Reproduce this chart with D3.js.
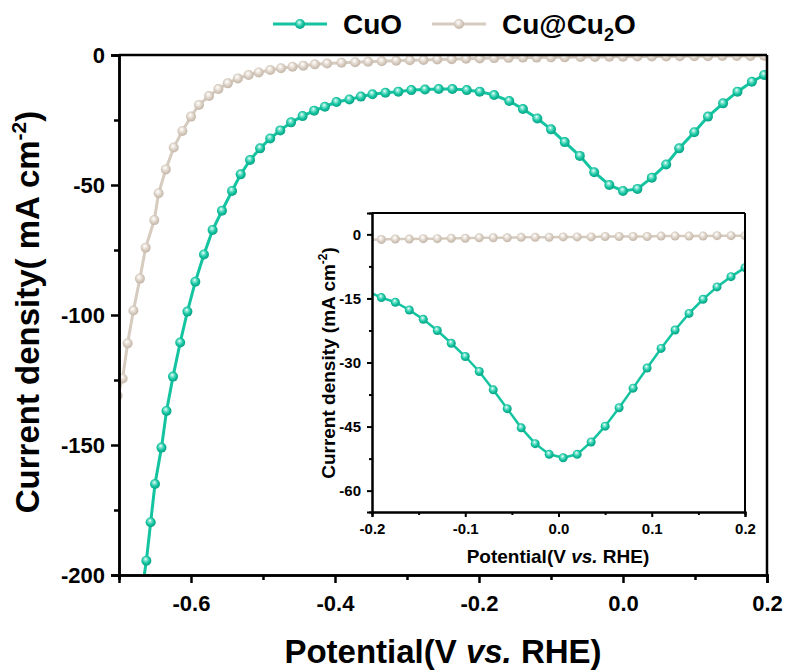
<!DOCTYPE html>
<html>
<head>
<meta charset="utf-8">
<script src="https://cdn.jsdelivr.net/npm/d3@7"></script>
<style>
  body { margin: 0; background: #fff; }
  text { font-family: "Liberation Sans", Arial, sans-serif; font-weight: bold; fill: #000; }
  .axis path, .axis line { stroke: #000; }
</style>
</head>
<body>
<div id="chart"></div>
<script>
// main panel: CuO
var cuoX = [-0.668, -0.662, -0.656, -0.650, -0.641, -0.634, -0.625, -0.615, -0.605, -0.594,
            -0.582, -0.570, -0.557, -0.543, -0.531, -0.518, -0.504, -0.490, -0.476, -0.461,
            -0.445, -0.429, -0.414, -0.398, -0.380, -0.364, -0.348, -0.330, -0.312, -0.294,
            -0.275, -0.256, -0.237, -0.217, -0.199, -0.179, -0.158, -0.139, -0.119, -0.100,
            -0.081, -0.060, -0.040, -0.019, 0.000, 0.020, 0.040, 0.060, 0.078, 0.099,
            0.118, 0.139, 0.159, 0.179, 0.196, 0.210];
var cuoY = [-206, -194.5, -179.7, -165.0, -151.0, -136.9, -123.7, -110.6, -98.7, -87.2,
            -76.7, -67.3, -59.9, -52.3, -45.9, -40.4, -35.9, -32.1, -29.0, -25.9,
            -23.5, -21.4, -19.9, -18.1, -17.1, -16.0, -15.1, -14.5, -14.1, -13.5,
            -13.3, -13.1, -13.1, -13.5, -14.1, -15.4, -17.7, -20.8, -24.4, -28.6,
            -33.5, -38.8, -45.1, -50.0, -52.3, -51.5, -47.2, -42.1, -35.9, -29.7,
            -23.7, -18.6, -14.1, -10.3, -7.7, -5.8];

// main panel: Cu@Cu2O
var cu2oX = [-0.702, -0.695, -0.688, -0.680, -0.671, -0.663, -0.651, -0.645, -0.635, -0.624,
             -0.612, -0.600, -0.589, -0.575, -0.562, -0.549, -0.535, -0.520, -0.506, -0.490,
             -0.475, -0.459, -0.444, -0.428, -0.411, -0.391, -0.372, -0.354, -0.335, -0.315,
             -0.296, -0.277, -0.258, -0.238, -0.218, -0.199, -0.179, -0.159, -0.139, -0.120,
             -0.100, -0.081, -0.059, -0.039, -0.019, 0.000, 0.020, 0.040, 0.060, 0.079,
             0.099, 0.118, 0.138, 0.158, 0.177, 0.196];
var cu2oY = [-131, -124.4, -110.9, -98.3, -86.0, -74.1, -63.5, -53.2, -44.0, -35.6,
             -29.2, -23.7, -19.2, -15.8, -13.1, -10.9, -9.0, -7.7, -6.7, -5.8,
             -5.1, -4.5, -4.1, -3.6, -3.3, -3.0, -2.8, -2.6, -2.4, -2.2,
             -2.0, -1.9, -1.7, -1.6, -1.4, -1.3, -1.2, -1.1, -1.0, -1.0,
             -0.9, -0.9, -0.8, -0.8, -0.7, -0.7, -0.6, -0.6, -0.6, -0.5,
             -0.5, -0.5, -0.4, -0.4, -0.4, -0.3];

// inset panel
var insetX = [-0.205, -0.190, -0.175, -0.160, -0.145, -0.130, -0.115, -0.100, -0.085, -0.070,
              -0.055, -0.040, -0.025, -0.010, 0.005, 0.020, 0.035, 0.050, 0.065, 0.080,
              0.095, 0.110, 0.125, 0.140, 0.155, 0.170, 0.185, 0.200];
var insetCuoY = [-13.3, -14.8, -15.9, -17.7, -19.9, -22.5, -25.5, -28.6, -32.1, -36.4,
                 -40.8, -45.3, -49.0, -51.5, -52.3, -51.5, -48.6, -44.9, -40.6, -36.0,
                 -31.3, -26.7, -22.4, -18.5, -15.2, -12.3, -9.9, -7.8];
var insetCu2oY = [-1.3, -1.2, -1.1, -1.1, -1.0, -1.0, -0.9, -0.9, -0.8, -0.8,
                  -0.8, -0.7, -0.7, -0.7, -0.6, -0.6, -0.6, -0.5, -0.5, -0.5,
                  -0.5, -0.4, -0.4, -0.4, -0.4, -0.3, -0.3, -0.3];

var mainXTicks = [-0.6, -0.4, -0.2, 0.0, 0.2];
var mainYTicks = [0, -50, -100, -150, -200];
var insetXTicks = [-0.2, -0.1, 0.0, 0.1, 0.2];
var insetYTicks = [0, -15, -30, -45, -60];

var teal = "#14c4a0", beige = "#d6cbbf";

// plain hyphen minus, as in the original figure
function fmt(spec) {
  var f = d3.format(spec);
  return function(d) { return f(d).replace("\u2212", "-"); };
}

var svg = d3.select("#chart").append("svg")
    .attr("width", 787)
    .attr("height", 670);

// sphere-like markers
var defs = svg.append("defs");
function ball(id, light, base, dark) {
  var g = defs.append("radialGradient").attr("id", id)
    .attr("cx", "45%").attr("cy", "45%").attr("r", "60%")
    .attr("fx", "42%").attr("fy", "32%");
  g.append("stop").attr("offset", "0%").attr("stop-color", "#ffffff");
  g.append("stop").attr("offset", "22%").attr("stop-color", light);
  g.append("stop").attr("offset", "60%").attr("stop-color", base);
  g.append("stop").attr("offset", "100%").attr("stop-color", dark);
}
ball("ballTeal", "#8fe9d7", "#14c4a0", "#079a7f");
ball("ballBeige", "#f4efea", "#d8cdc1", "#bfb1a3");

function zip(xs, ys) {
  return xs.map(function(x, i) { return [x, ys[i]]; });
}

// ---- main panel ----
var m = {left: 119, right: 767, top: 55, bottom: 575};
var x = d3.scaleLinear().domain([-0.7, 0.2]).range([m.left, m.right]);
var y = d3.scaleLinear().domain([-200, 0]).range([m.bottom, m.top]);

defs.append("clipPath").attr("id", "clipMain").append("rect")
    .attr("x", m.left).attr("y", m.top)
    .attr("width", m.right - m.left).attr("height", m.bottom - m.top);

function drawSeries(g, data, xs, ys, color, grad, r, lw) {
  g.append("path")
    .datum(data)
    .attr("fill", "none")
    .attr("stroke", color)
    .attr("stroke-width", lw)
    .attr("d", d3.line().x(function(d) { return xs(d[0]); }).y(function(d) { return ys(d[1]); }));
  g.selectAll("circle.pt" + grad)
    .data(data)
    .enter().append("circle")
      .attr("class", "pt" + grad)
      .attr("cx", function(d) { return xs(d[0]); })
      .attr("cy", function(d) { return ys(d[1]); })
      .attr("r", r)
      .attr("fill", "url(#" + grad + ")");
}

var plot = svg.append("g").attr("clip-path", "url(#clipMain)");
drawSeries(plot, zip(cu2oX, cu2oY), x, y, beige, "ballBeige", 5, 3);
drawSeries(plot, zip(cuoX, cuoY), x, y, teal, "ballTeal", 5, 3);

// main axes
function styleAxis(g, w) {
  g.attr("class", "axis");
  g.select(".domain").attr("stroke-width", w);
  g.selectAll(".tick line").attr("stroke-width", w);
}

var xMinor = svg.append("g").attr("transform", "translate(0," + m.bottom + ")")
    .call(d3.axisBottom(x).tickValues([-0.7, -0.5, -0.3, -0.1, 0.1]).tickSize(5).tickFormat(""));
styleAxis(xMinor, 2.5);
var xAxis = svg.append("g").attr("transform", "translate(0," + m.bottom + ")")
    .call(d3.axisBottom(x).tickValues(mainXTicks).tickSize(8).tickPadding(12).tickFormat(fmt(".1f")));
styleAxis(xAxis, 2.5);
xAxis.selectAll("text").attr("font-size", 22);

var yMinor = svg.append("g").attr("transform", "translate(" + m.left + ",0)")
    .call(d3.axisLeft(y).tickValues([-25, -75, -125, -175]).tickSize(5).tickFormat(""));
styleAxis(yMinor, 2.5);
var yAxis = svg.append("g").attr("transform", "translate(" + m.left + ",0)")
    .call(d3.axisLeft(y).tickValues(mainYTicks).tickSize(8).tickPadding(6).tickFormat(fmt("d")));
styleAxis(yAxis, 2.5);
yAxis.selectAll("text").attr("font-size", 22);

svg.append("line").attr("x1", m.left).attr("x2", m.right).attr("y1", m.top).attr("y2", m.top)
    .attr("stroke", "#000").attr("stroke-width", 2.5);
svg.append("line").attr("x1", m.right).attr("x2", m.right).attr("y1", m.top).attr("y2", m.bottom)
    .attr("stroke", "#000").attr("stroke-width", 2.5);

// main titles
var xt = svg.append("text").attr("x", 443).attr("y", 663).attr("text-anchor", "middle").attr("font-size", 33);
xt.append("tspan").text("Potential(V ");
xt.append("tspan").attr("font-style", "italic").text("vs.");
xt.append("tspan").text(" RHE)");

var yt = svg.append("text").attr("transform", "translate(39,312) rotate(-90)")
    .attr("text-anchor", "middle").attr("font-size", 33);
yt.append("tspan").text("Current density( mA cm");
yt.append("tspan").attr("font-size", 21).attr("dy", -13).text("-2");
yt.append("tspan").attr("dy", 13).text(")");

// legend
var legend = [
  {name: "CuO", color: teal, grad: "ballTeal", x0: 273},
  {name: "Cu@Cu2O", color: beige, grad: "ballBeige", x0: 432}
];
legend.forEach(function(l) {
  var g = svg.append("g");
  g.append("line").attr("x1", l.x0).attr("x2", l.x0 + 54).attr("y1", 24).attr("y2", 24)
    .attr("stroke", l.color).attr("stroke-width", 3);
  g.append("circle").attr("cx", l.x0 + 27).attr("cy", 24).attr("r", 5).attr("fill", "url(#" + l.grad + ")");
  var t = g.append("text").attr("x", l.x0 + 70).attr("y", 34).attr("font-size", 28);
  if (l.name === "CuO") {
    t.text("CuO");
  } else {
    t.append("tspan").text("Cu@Cu");
    t.append("tspan").attr("font-size", 18).attr("dy", 7).text("2");
    t.append("tspan").attr("dy", -7).text("O");
  }
});

// ---- inset ----
var n = {left: 372, right: 745, top: 213, bottom: 512};
var ix = d3.scaleLinear().domain([-0.2, 0.2]).range([n.left, n.right]);
var iy = d3.scaleLinear().domain([-65, 5]).range([n.bottom, n.top]);

svg.append("rect").attr("x", n.left).attr("y", n.top)
    .attr("width", n.right - n.left).attr("height", n.bottom - n.top).attr("fill", "#fff");

defs.append("clipPath").attr("id", "clipInset").append("rect")
    .attr("x", n.left).attr("y", n.top)
    .attr("width", n.right - n.left).attr("height", n.bottom - n.top);

var iplot = svg.append("g").attr("clip-path", "url(#clipInset)");
drawSeries(iplot, zip(insetX, insetCu2oY), ix, iy, beige, "ballBeige", 4.5, 2.5);
drawSeries(iplot, zip(insetX, insetCuoY), ix, iy, teal, "ballTeal", 4.5, 2.5);

var ixMinor = svg.append("g").attr("transform", "translate(0," + n.bottom + ")")
    .call(d3.axisBottom(ix).tickValues([-0.15, -0.05, 0.05, 0.15]).tickSize(3).tickFormat(""));
styleAxis(ixMinor, 2);
var ixAxis = svg.append("g").attr("transform", "translate(0," + n.bottom + ")")
    .call(d3.axisBottom(ix).tickValues(insetXTicks).tickSize(5).tickPadding(6).tickFormat(fmt(".1f")));
styleAxis(ixAxis, 2);
ixAxis.selectAll("text").attr("font-size", 15);

var iyMinor = svg.append("g").attr("transform", "translate(" + n.left + ",0)")
    .call(d3.axisLeft(iy).tickValues([-7.5, -22.5, -37.5, -52.5]).tickSize(3).tickFormat(""));
styleAxis(iyMinor, 2);
var iyAxis = svg.append("g").attr("transform", "translate(" + n.left + ",0)")
    .call(d3.axisLeft(iy).tickValues(insetYTicks).tickSize(5).tickPadding(6).tickFormat(fmt("d")));
styleAxis(iyAxis, 2);
iyAxis.selectAll("text").attr("font-size", 15);

svg.append("line").attr("x1", n.left).attr("x2", n.right).attr("y1", n.top).attr("y2", n.top)
    .attr("stroke", "#000").attr("stroke-width", 2);
svg.append("line").attr("x1", n.right).attr("x2", n.right).attr("y1", n.top).attr("y2", n.bottom)
    .attr("stroke", "#000").attr("stroke-width", 2);

var ixt = svg.append("text").attr("x", 558).attr("y", 563).attr("text-anchor", "middle").attr("font-size", 19);
ixt.append("tspan").text("Potential(V ");
ixt.append("tspan").attr("font-style", "italic").text("vs.");
ixt.append("tspan").text(" RHE)");

var iyt = svg.append("text").attr("transform", "translate(335,363) rotate(-90)")
    .attr("text-anchor", "middle").attr("font-size", 19);
iyt.append("tspan").text("Current density (mA cm");
iyt.append("tspan").attr("font-size", 12).attr("dy", -8).text("-2");
iyt.append("tspan").attr("dy", 8).text(")");
</script>
</body>
</html>
